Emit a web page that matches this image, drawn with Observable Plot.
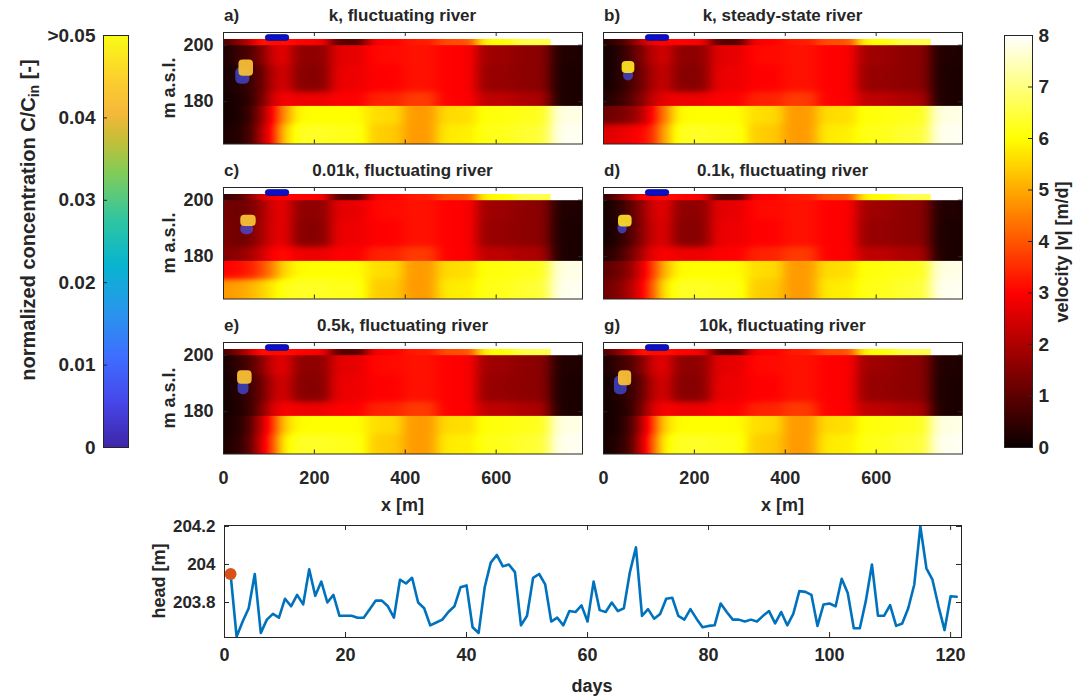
<!DOCTYPE html>
<html>
<head>
<meta charset="utf-8">
<script src="https://cdn.jsdelivr.net/npm/d3@7"></script>
<script src="https://cdn.jsdelivr.net/npm/@observablehq/plot@0.6"></script>
<style>
html,body{margin:0;padding:0;background:#fff;}
#fig{position:relative;width:1082px;height:698px;overflow:hidden;background:#fff;}
</style>
</head>
<body>
<div id="fig"></div>
<script>
// ---------------- data ----------------
const panelLetters = ["a)", "b)", "c)", "d)", "e)", "g)"];
const panelTitles = ["k, fluctuating river", "k, steady-state river", "0.01k, fluctuating river",
  "0.1k, fluctuating river", "0.5k, fluctuating river", "10k, fluctuating river"];

const xDomain = [0, 790];
const yDomain = [165, 204.5];
const xTicks = [0, 200, 400, 600];
const yTicks = [180, 200];

// model zones: column edges (m) and layer row edges (m a.s.l., top to bottom)
const colEdges = [0, 20, 45, 70, 95, 120, 150, 235, 315, 395, 470, 558, 640, 720, 790];
const stripXEnd = 720;
const stripEdges = [202.2, 200];
const midEdges = [200, 193, 183.5, 178.5];
const botEdges = [178.5, 172, 165];

// velocity |v| [m/d], shared columns 150..790 (rows: strip, mid1, mid2, mid3, bot1, bot2)
const rightStrip = [3.0, 0.9, 3.0, 3.3, 3.9, 6.0, 6.6, 6.6];
const rightMid1  = [1.6, 2.7, 3.1, 3.2, 3.0, 1.8, 1.6, 0.25];
const rightMid2  = [1.5, 2.8, 3.0, 3.2, 3.0, 1.7, 1.6, 0.2];
const rightMid3  = [2.8, 3.0, 3.4, 3.7, 3.0, 2.2, 2.0, 0.2];
const rightBot1  = [6.0, 6.0, 5.6, 4.8, 5.6, 6.1, 6.2, 7.8];
const rightBot2  = [6.3, 6.2, 5.4, 4.8, 5.8, 6.2, 6.4, 7.9];

// velocity |v| [m/d], panel specific columns 0..150
const leftA = [[0.8, 1.6, 2.2, 3.5, 3.0, 3.2], [0.2, 0.6, 0.8, 1.4, 2.5, 2.8], [0.15, 0.3, 0.6, 1.0, 2.2, 2.6],
               [0.1, 0.2, 0.4, 1.2, 2.5, 3.0], [0.1, 0.2, 0.5, 1.6, 3.0, 4.8], [0.2, 0.3, 0.6, 2.0, 3.2, 5.5]];
const leftB = [[0.3, 0.6, 1.2, 2.2, 3.0, 3.0], [0.1, 0.3, 0.8, 1.4, 2.2, 2.6], [0.1, 0.3, 0.7, 1.2, 2.0, 2.4],
               [0.3, 0.5, 0.9, 1.5, 2.3, 2.8], [1.2, 1.3, 1.5, 2.0, 3.0, 4.5], [2.6, 2.7, 2.9, 3.0, 3.4, 5.0]];
const leftC = [[0.5, 0.8, 1.5, 2.5, 3.0, 3.0], [1.3, 1.2, 1.3, 1.8, 2.6, 2.8], [1.4, 1.2, 1.3, 1.9, 2.6, 2.8],
               [1.5, 1.6, 1.9, 2.4, 3.0, 3.2], [3.0, 3.1, 3.3, 3.8, 4.5, 5.6], [4.8, 4.9, 5.1, 5.4, 5.8, 6.2]];
const leftD = [[0.5, 1.2, 2.0, 3.0, 3.0, 3.2], [0.1, 0.4, 0.9, 1.6, 2.5, 2.8], [0.1, 0.3, 0.8, 1.5, 2.4, 2.7],
               [0.3, 0.6, 1.2, 2.0, 2.8, 3.0], [1.0, 1.2, 1.6, 2.6, 3.6, 5.2], [1.2, 1.5, 2.0, 2.8, 4.0, 5.8]];
const leftE = [[0.7, 1.5, 2.3, 3.4, 3.0, 3.2], [0.15, 0.5, 0.8, 1.5, 2.5, 2.8], [0.1, 0.3, 0.6, 1.1, 2.2, 2.6],
               [0.1, 0.25, 0.5, 1.4, 2.6, 3.0], [0.15, 0.3, 0.8, 2.2, 3.5, 5.5], [0.2, 0.4, 0.9, 2.5, 3.8, 6.0]];
const leftG = [[0.8, 1.6, 2.2, 3.5, 3.0, 3.2], [0.2, 0.6, 0.8, 1.4, 2.5, 2.8], [0.1, 0.3, 0.5, 1.0, 2.2, 2.6],
               [0.1, 0.2, 0.4, 1.3, 2.6, 3.0], [0.1, 0.2, 0.6, 2.0, 3.6, 5.6], [0.15, 0.3, 0.7, 2.3, 4.0, 6.0]];
const leftParts = [leftA, leftB, leftC, leftD, leftE, leftG];

// concentration plume [x1, x2, y1, y2] and C/Cin
const plumeCore = [[34, 66, 189, 194.8], [41, 69, 190, 194.2], [38, 72, 190.7, 194.7],
                   [33, 63, 190.5, 194.7], [31, 63, 189.7, 194.5], [33, 62, 189.2, 194.5]];
const plumeFringe = [[27, 58, 186.2, 192], [44, 66, 187.3, 191], [38, 66, 187.8, 191.5],
                     [32, 52, 188, 192], [32, 56, 186, 191], [24, 52, 186, 192.5]];
const coreConc = [0.0415, 0.047, 0.042, 0.046, 0.042, 0.042];
const fringeConc = 0.007;

// river
const river = [93, 145, 201.5, 203.6];

// colour bars
const velTicks = [0, 1, 2, 3, 4, 5, 6, 7, 8];
const concTicks = [0, 0.01, 0.02, 0.03, 0.04, 0.05];
const concTickLabels = ["0", "0.01", "0.02", "0.03", "0.04", ">0.05"];
const hotStops = [0, 3, 6, 8];
const hotColors = ["#0b0000", "#ff0000", "#ffff00", "#ffffff"];
const parulaStops = [0, 0.0056, 0.0111, 0.0167, 0.0222, 0.0278, 0.0333, 0.0375, 0.0405, 0.0445, 0.05];
const parulaColors = ["#3e26a8", "#4747eb", "#3e6fff", "#2797eb", "#08b5d0", "#31c69f", "#81cc59",
                      "#c8be36", "#f5b83a", "#fcce30", "#f9fb15"];

// river head time series
const heads = [203.95, 203.62, 203.70, 203.77, 203.95, 203.64, 203.71, 203.74, 203.72, 203.82,
  203.78, 203.84, 203.79, 203.975, 203.835, 203.91, 203.80, 203.84, 203.73, 203.73,
  203.73, 203.72, 203.72, 203.765, 203.81, 203.81, 203.78, 203.72, 203.92, 203.90,
  203.93, 203.80, 203.77, 203.68, 203.695, 203.71, 203.75, 203.78, 203.88, 203.89,
  203.67, 203.64, 203.88, 204.01, 204.05, 203.99, 204.00, 203.96, 203.68, 203.73,
  203.93, 203.95, 203.895, 203.70, 203.72, 203.68, 203.755, 203.75, 203.785, 203.70,
  203.91, 203.76, 203.75, 203.80, 203.755, 203.77, 203.96, 204.09, 203.73, 203.765,
  203.715, 203.74, 203.82, 203.825, 203.73, 203.71, 203.765, 203.715, 203.67, 203.677,
  203.68, 203.795, 203.75, 203.71, 203.71, 203.70, 203.71, 203.70, 203.73, 203.755,
  203.69, 203.75, 203.68, 203.74, 203.86, 203.856, 203.84, 203.677, 203.79, 203.795,
  203.78, 203.925, 203.85, 203.665, 203.665, 203.81, 204.00, 203.73, 203.73, 203.786,
  203.677, 203.69, 203.77, 203.895, 204.20, 203.98, 203.92, 203.78, 203.655, 203.833, 203.83];
const days = heads.map((_, i) => i + 1);
const markerDay = 1;
const dayDomain = [0, 121.8];
const headDomain = [203.616, 204.205];
const dayTicks = [0, 20, 40, 60, 80, 100, 120];
const headTicks = [203.8, 204, 204.2];
const headTickLabels = ["203.8", "204", "204.2"];

// ---------------- drawing ----------------
const FONT = "'Liberation Sans', Arial, Helvetica, sans-serif";
const INK = "#262626";
const fig = document.getElementById("fig");
function place(el, left, top) {
  el.style.position = "absolute";
  el.style.left = left + "px";
  el.style.top = top + "px";
  fig.appendChild(el);
}
const baseStyle = (size) => ({background: "transparent", overflow: "visible", fontFamily: FONT,
  fontWeight: "bold", fontSize: size + "px", color: INK});

const hotScale = {type: "linear", domain: hotStops, range: hotColors, interpolate: "rgb", clamp: true};
const parulaScale = {type: "linear", domain: parulaStops, range: parulaColors, interpolate: "rgb", clamp: true};
const parula = d3.scaleLinear().domain(parulaStops).range(parulaColors).interpolate(d3.interpolateRgb).clamp(true);

const SX = 9, SY = 0.6;
function weights(edges, v, s, desc) {
  const n = edges.length - 1, w = new Array(n);
  let prev = 1;
  for (let i = 0; i < n; i++) {
    const e = edges[i + 1];
    const next = i === n - 1 ? 0 : 1 / (1 + Math.exp(-(desc ? e - v : v - e) / s));
    w[i] = prev - next;
    prev = next;
  }
  return w;
}
function field(rows, rowEdges, x, y) {
  const wx = weights(colEdges, x, SX, false);
  const wy = weights(rowEdges, y, SY, true);
  let f = 0;
  for (let r = 0; r < rows.length; r++) {
    if (wy[r] < 1e-5) continue;
    let g = 0;
    for (let c = 0; c < wx.length; c++) g += wx[c] * rows[r][c];
    f += wy[r] * g;
  }
  return f;
}

const FW = 359, FH = 111.5;
const colLeft = [223, 603];
const rowTop = [32.3, 187.3, 342.3];

function heatPanel(i) {
  const col = i % 2, row = Math.floor(i / 2);
  const L = leftParts[i];
  const R = [rightStrip, rightMid1, rightMid2, rightMid3, rightBot1, rightBot2];
  const rows = R.map((r, k) => L[k].concat(r));
  const mL = 70, mR = 4, mT = 4, mB = 40;
  const overlap = 0.5;
  const marks = [
    Plot.raster({x1: xDomain[0], x2: xDomain[1], y1: botEdges[2], y2: botEdges[0] + overlap, pixelSize: 1,
      fill: (x, y) => field(rows.slice(4), botEdges, x, y)}),
    Plot.raster({x1: xDomain[0], x2: stripXEnd, y1: stripEdges[1] - overlap, y2: stripEdges[0], pixelSize: 1,
      fill: (x, y) => field([rows[0]], stripEdges, x, y)}),
    Plot.raster({x1: xDomain[0], x2: xDomain[1], y1: midEdges[3], y2: midEdges[0], pixelSize: 1,
      fill: (x, y) => field(rows.slice(1, 4), midEdges, x, y)}),
    Plot.rect([plumeFringe[i]], {x1: d => d[0], x2: d => d[1], y1: d => d[2], y2: d => d[3],
      fill: parula(fringeConc), fillOpacity: 0.7, rx: 5}),
    Plot.rect([plumeCore[i]], {x1: d => d[0], x2: d => d[1], y1: d => d[2], y2: d => d[3],
      fill: parula(coreConc[i]), fillOpacity: 0.95, rx: 4}),
    Plot.rect([river], {x1: d => d[0], x2: d => d[1], y1: d => d[2], y2: d => d[3],
      fill: "#0a0fc8", stroke: "#00006e", strokeWidth: 0.6, rx: 3}),
    Plot.tickX(xTicks, {x: d => d, insetTop: FH - 4, stroke: INK}),
    Plot.tickX(xTicks, {x: d => d, insetBottom: FH - 4, stroke: INK}),
    Plot.tickY(yTicks, {y: d => d, insetRight: FW - 4, stroke: INK}),
    Plot.tickY(yTicks, {y: d => d, insetLeft: FW - 4, stroke: INK}),
    Plot.frame({stroke: INK, strokeWidth: 1})
  ];
  if (col === 0) marks.push(Plot.axisY({ticks: yTicks, tickSize: 0, tickPadding: 10, label: null}));
  if (row === 2) marks.push(Plot.axisX({ticks: xTicks, tickSize: 0, tickPadding: 17, label: null}));
  const svg = Plot.plot({
    width: FW + mL + mR, height: FH + mT + mB,
    marginLeft: mL, marginRight: mR, marginTop: mT, marginBottom: mB,
    x: {domain: xDomain, axis: null}, y: {domain: yDomain, axis: null},
    color: hotScale,
    style: baseStyle(18),
    marks
  });
  place(svg, colLeft[col] - mL, rowTop[row] - mT);
}
for (let i = 0; i < 6; i++) heatPanel(i);

// colour bar: concentration (left)
{
  const bw = 25, bh = 412, mL = 70, mR = 4, mT = 14, mB = 14;
  const svg = Plot.plot({
    width: bw + mL + mR, height: bh + mT + mB, marginLeft: mL, marginRight: mR, marginTop: mT, marginBottom: mB,
    x: {domain: [0, 1], axis: null}, y: {domain: [concTicks[0], concTicks[concTicks.length - 1]], axis: null},
    color: parulaScale, style: baseStyle(19),
    marks: [
      Plot.raster({x1: 0, x2: 1, y1: concTicks[0], y2: concTicks[concTicks.length - 1], pixelSize: 1, fill: (x, y) => y}),
      Plot.tickY(concTicks.slice(1, -1), {y: d => d, insetRight: bw - 4, stroke: INK}),
      Plot.frame({stroke: INK}),
      Plot.axisY({ticks: concTicks, tickSize: 0, tickPadding: 8, label: null,
        tickFormat: d => concTickLabels[concTicks.indexOf(d)]})
    ]
  });
  place(svg, 103 - mL, 35 - mT);
}
// colour bar: velocity (right)
{
  const bw = 28, bh = 412, mL = 4, mR = 40, mT = 14, mB = 14;
  const svg = Plot.plot({
    width: bw + mL + mR, height: bh + mT + mB, marginLeft: mL, marginRight: mR, marginTop: mT, marginBottom: mB,
    x: {domain: [0, 1], axis: null}, y: {domain: [velTicks[0], velTicks[velTicks.length - 1]], axis: null},
    color: hotScale, style: baseStyle(19),
    marks: [
      Plot.raster({x1: 0, x2: 1, y1: velTicks[0], y2: velTicks[velTicks.length - 1], pixelSize: 1, fill: (x, y) => y}),
      Plot.tickY(velTicks.slice(1, -1), {y: d => d, insetLeft: bw - 4, stroke: INK}),
      Plot.frame({stroke: INK}),
      Plot.axisY({anchor: "right", ticks: velTicks, tickSize: 0, tickPadding: 6, label: null})
    ]
  });
  place(svg, 1004 - mL, 35 - mT);
}
// head time series
{
  const w = 737, h = 112, mL = 70, mR = 6, mT = 6, mB = 34;
  const svg = Plot.plot({
    width: w + mL + mR, height: h + mT + mB, marginLeft: mL, marginRight: mR, marginTop: mT, marginBottom: mB,
    x: {domain: dayDomain, axis: null}, y: {domain: headDomain, axis: null},
    style: baseStyle(18),
    marks: [
      Plot.tickX(dayTicks, {x: d => d, insetTop: h - 5, stroke: INK}),
      Plot.tickX(dayTicks, {x: d => d, insetBottom: h - 5, stroke: INK}),
      Plot.tickY(headTicks, {y: d => d, insetRight: w - 5, stroke: INK}),
      Plot.tickY(headTicks, {y: d => d, insetLeft: w - 5, stroke: INK}),
      Plot.line(days, {x: d => d, y: (d, i) => heads[i], stroke: "#0072bd", strokeWidth: 2.6, clip: true}),
      Plot.dot([markerDay], {x: d => d, y: d => heads[days.indexOf(d)], r: 6, fill: "#d95319"}),
      Plot.frame({stroke: INK}),
      Plot.axisX({ticks: dayTicks, tickSize: 0, tickPadding: 11, label: null}),
      Plot.axisY({ticks: headTicks, tickSize: 0, tickPadding: 9, label: null, fontSize: 17,
        tickFormat: d => headTickLabels[headTicks.indexOf(d)]})
    ]
  });
  place(svg, 224 - mL, 525 - mT);
}

// ---------------- text labels ----------------
const ov = d3.create("svg").attr("width", 1082).attr("height", 698)
  .style("position", "absolute").style("left", "0px").style("top", "0px").style("pointer-events", "none")
  .attr("font-family", FONT).attr("font-weight", "bold").attr("fill", INK);
for (let i = 0; i < 6; i++) {
  const col = i % 2, row = Math.floor(i / 2);
  const yb = rowTop[row] - 11.8;
  ov.append("text").attr("x", colLeft[col] + 1).attr("y", yb).attr("font-size", 17).text(panelLetters[i]);
  ov.append("text").attr("x", colLeft[col] + FW / 2).attr("y", yb).attr("font-size", 17)
    .attr("text-anchor", "middle").text(panelTitles[i]);
}
for (let row = 0; row < 3; row++) {
  ov.append("text").attr("transform", `translate(175,${rowTop[row] + FH / 2}) rotate(-90)`)
    .attr("text-anchor", "middle").attr("font-size", 18).text("m a.s.l.");
}
for (let col = 0; col < 2; col++) {
  ov.append("text").attr("x", colLeft[col] + FW / 2).attr("y", 511).attr("text-anchor", "middle")
    .attr("font-size", 18).text("x [m]");
}
ov.append("text").attr("transform", "translate(165,581) rotate(-90)").attr("text-anchor", "middle")
  .attr("font-size", 18).text("head [m]");
ov.append("text").attr("x", 592).attr("y", 692).attr("text-anchor", "middle").attr("font-size", 18).text("days");
{
  const t = ov.append("text").attr("transform", "translate(35,220) rotate(-90)").attr("text-anchor", "middle")
    .attr("font-size", 20);
  t.append("tspan").text("normalized concentration C/C");
  t.append("tspan").attr("font-size", 14).attr("dy", 4).text("in");
  t.append("tspan").attr("dy", -4).text(" [-]");
}
ov.append("text").attr("transform", "translate(1068,252) rotate(-90)").attr("text-anchor", "middle")
  .attr("font-size", 18).text("velocity |v| [m/d]");
fig.appendChild(ov.node());
</script>
</body>
</html>
